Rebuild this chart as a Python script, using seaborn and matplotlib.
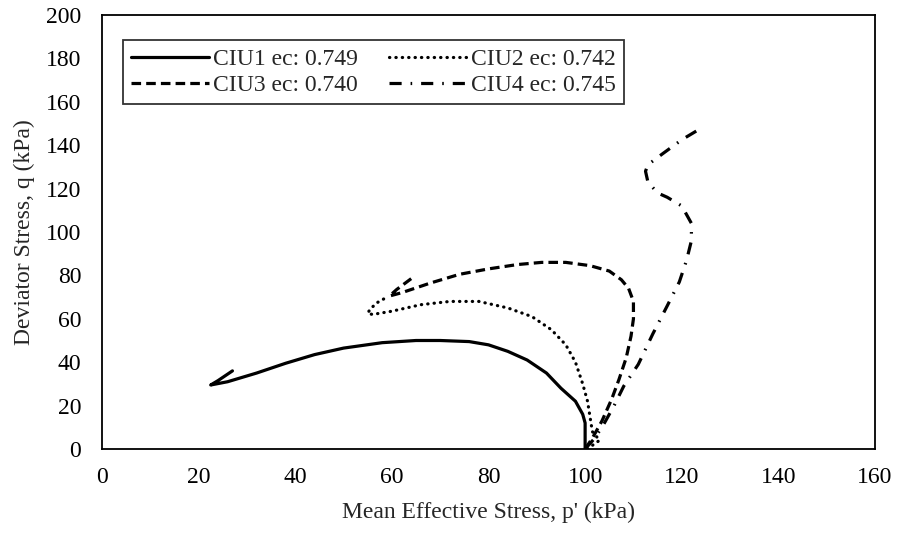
import numpy as np
import pandas as pd
import matplotlib
matplotlib.use("Agg")
import matplotlib.pyplot as plt
import seaborn as sns

# ---- data ----
ciu1_p = [100, 100, 100, 99.5, 98, 95, 92, 88, 84, 80, 76, 70, 65, 58, 50, 44, 38, 32, 26, 22.5, 24, 26, 27]
ciu1_q = [0, 5, 12, 16, 22, 28, 35, 41, 45, 48, 49.5, 50, 50, 49, 46.5, 43.5, 39.5, 35, 31, 29.5, 31.5, 34.5, 36]

ciu2_p = [100.5, 102, 103, 101.5, 101, 100.5, 99.5, 98, 96, 93, 89, 84, 78, 72, 66, 60, 56, 55, 55.5, 57, 59]
ciu2_q = [0, 2.5, 4, 8, 15, 22, 30, 40, 48, 55, 61, 65, 68, 68, 66.5, 63.5, 62, 62.5, 64.5, 67.5, 70]

ciu3_p = [100, 101.5, 103.5, 105.5, 107, 108.5, 109.5, 110, 110, 109, 107.5, 105, 101, 96, 91, 86, 80, 74, 68, 62, 59.5, 61, 64]
ciu3_q = [0, 5, 13, 23, 32, 42, 52, 60, 68, 74, 78, 82, 84.5, 86, 86, 85, 83, 80.5, 76.5, 72, 70.5, 73.5, 78.5]

ciu4_p = [100, 102, 104, 106, 108, 111, 114, 117, 119.5, 121, 122, 122, 120, 117, 115, 113, 112.5, 113, 116, 120, 124.5]
ciu4_q = [0, 5, 12, 20, 29, 39, 53, 66, 77, 87, 96, 104, 112, 116, 118, 123, 128, 131, 136, 142.5, 148.5]

labels = ["CIU1 ec: 0.749", "CIU2 ec: 0.742", "CIU3 ec: 0.740", "CIU4 ec: 0.745"]
x_ticks = [0, 20, 40, 60, 80, 100, 120, 140, 160]
y_ticks = [0, 20, 40, 60, 80, 100, 120, 140, 160, 180, 200]

sns.set_style("white")
plt.rcParams['font.family'] = ['Liberation Serif', 'DejaVu Serif']

fig = plt.figure(figsize=(8.99, 5.36), dpi=100)
ax = fig.add_axes([102 / 899, 1 - 449 / 536, 773 / 899, 434 / 536])

series = [
    (ciu1_p, ciu1_q, labels[0], '-', 'butt'),
    (ciu2_p, ciu2_q, labels[1], (0, (0.1, 1.9)), 'round'),
    (ciu3_p, ciu3_q, labels[2], (0, (3.0, 1.6)), 'butt'),
    (ciu4_p, ciu4_q, labels[3], (0, (3.8, 2.8, 0.5, 2.8)), 'butt'),
]
for p, q, lab, ls, cap in series:
    df = pd.DataFrame({"p": p, "q": q})
    sns.lineplot(data=df, x="p", y="q", sort=False, estimator=None, color="black",
                 linewidth=2.3, linestyle=ls, dash_capstyle=cap, label=lab, ax=ax)

ax.set_xlim(0, 160)
ax.set_ylim(0, 200)
ax.set_xticks(x_ticks)
ax.set_yticks(y_ticks)
ax.tick_params(axis='both', length=0, labelsize=17, colors='black')
ax.tick_params(axis='x', pad=13)
ax.tick_params(axis='y', pad=15)
ax.set_xlabel("Mean Effective Stress, p' (kPa)", fontsize=17, labelpad=10)
ax.set_ylabel("Deviator Stress, q (kPa)", fontsize=17, labelpad=8)
for s in ax.spines.values():
    s.set_color('black')
    s.set_linewidth(1.3)

handles, labs = ax.get_legend_handles_labels()
order = [0, 2, 1, 3]  # row-wise filling like the reference
leg = ax.legend([handles[i] for i in order], [labs[i] for i in order],
                loc='upper left', bbox_to_anchor=(0.027, 0.942), ncol=2, frameon=True,
                fontsize=17, handlelength=3.3, handletextpad=0.15, columnspacing=1.35,
                borderaxespad=0, borderpad=0.35, labelspacing=0.2, fancybox=False)
leg.get_frame().set_edgecolor('black')
leg.get_frame().set_linewidth(1.3)

fig.savefig("out.png", dpi=100)
